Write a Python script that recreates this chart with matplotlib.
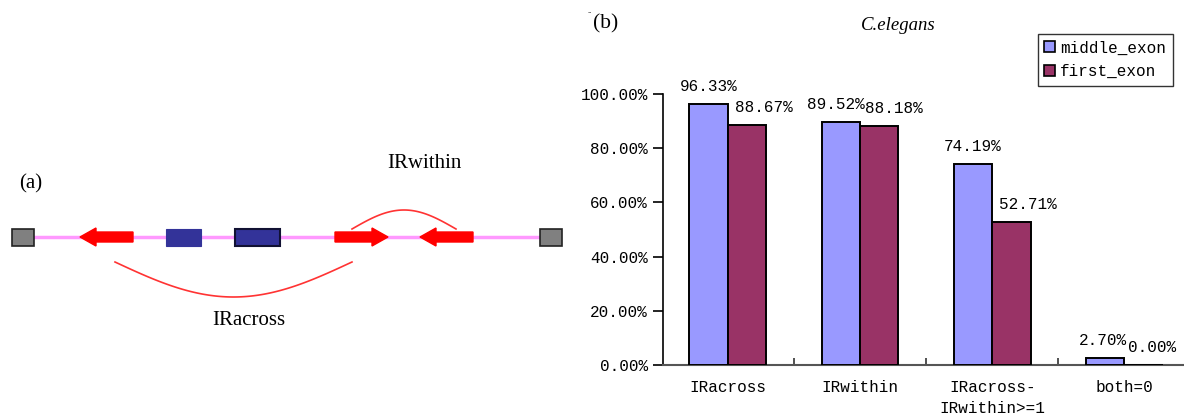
import matplotlib
matplotlib.use("Agg")
import matplotlib.pyplot as plt
from matplotlib.patches import Rectangle, FancyArrow
import numpy as np

categories = ["IRacross", "IRwithin", "IRacross-\nIRwithin>=1", "both=0"]
middle_exon = [96.33, 89.52, 74.19, 2.70]
first_exon = [88.67, 88.18, 52.71, 0.00]
series_names = ["middle_exon", "first_exon"]
yticks = [0, 20, 40, 60, 80, 100]

# horizontal nudges (pixels) of the value labels, as placed in the reference
mid_label_dx = [0, -5, 0, -2]
first_label_dx = [17, 15, 16, 8]

C_MID = "#9999FF"
C_FIRST = "#993366"
MONO = "Liberation Mono"
SERIF = "Liberation Serif"
FS = 11.5

W, H = 1184, 419
fig = plt.figure(figsize=(W / 100, H / 100), dpi=100)

# ---------------- Panel (a): schematic (pixel coordinates) ----------------
axa = fig.add_axes([0, 0, 1, 1])
axa.set_xlim(0, W)
axa.set_ylim(H, 0)
axa.axis("off")

axa.plot([33, 541], [237, 237], color="#FF99FF", lw=2.5, zorder=1)
for x0 in (12, 540):
    axa.add_patch(Rectangle((x0, 229), 22, 17, facecolor="#808080",
                            edgecolor="#222222", lw=1.2, zorder=3))
axa.add_patch(Rectangle((166, 229), 35, 17, facecolor="#333399",
                        edgecolor="#333399", lw=0.8, zorder=3))
axa.add_patch(Rectangle((235, 229), 45, 17, facecolor="#333399",
                        edgecolor="#111133", lw=1.5, zorder=3))

def red_arrow(x_tail, x_head):
    dx = x_head - x_tail
    axa.add_patch(FancyArrow(x_tail, 237, dx, 0, width=10, head_width=18,
                             head_length=16, length_includes_head=True,
                             facecolor="#FF0000", edgecolor="#FF0000",
                             zorder=4))

red_arrow(133, 80)
red_arrow(335, 388)
red_arrow(473, 420)

t = np.linspace(0, 1, 100)
xw = 352 + (456 - 352) * t
yw = 229 - 19 * np.sin(np.pi * t)
axa.plot(xw, yw, color="#FF3333", lw=1.2, zorder=2)
xa = 115 + (352 - 115) * t
ya = 262 + 35 * np.sin(np.pi * t)
axa.plot(xa, ya, color="#FF3333", lw=1.2, zorder=2)

axa.text(19, 184, "(a)", fontsize=15, family=SERIF, va="center", ha="left")
axa.text(424, 163, "IRwithin", fontsize=15, family=SERIF, va="center", ha="center")
axa.text(249, 320, "IRacross", fontsize=15, family=SERIF, va="center", ha="center")

axa.text(593, 24, "(b)", fontsize=15.5, family=SERIF, va="center", ha="left")
axa.text(898, 26, "C.elegans", fontsize=13.5, family=SERIF, style="italic",
         va="center", ha="center")
axa.text(587, 11, "..", fontsize=6, family=SERIF, va="center", ha="left")

# ---------------- Panel (b): bar chart ----------------
left_px, right_px = 663, 1184
bottom_px, top_px = 365, 94
axb = fig.add_axes([left_px / W, (H - bottom_px) / H,
                    (right_px - left_px) / W, (bottom_px - top_px) / H])
x = np.arange(len(categories))
bw = 0.29
b1 = axb.bar(x - bw / 2, middle_exon, bw, color=C_MID, edgecolor="black",
             lw=1.4, label=series_names[0], zorder=3)
b2 = axb.bar(x + bw / 2, first_exon, bw, color=C_FIRST, edgecolor="black",
             lw=1.4, label=series_names[1], zorder=3)

axb.set_xlim(-0.49, 3.45)
axb.set_ylim(0, 100)
for s in ("top", "right"):
    axb.spines[s].set_visible(False)
axb.spines["left"].set_color("black")
axb.spines["left"].set_linewidth(1.2)
axb.spines["bottom"].set_color("#555555")
axb.spines["bottom"].set_linewidth(1.5)

axb.set_yticks(yticks)
axb.set_yticklabels([f"{v:.2f}%" for v in yticks], family=MONO, fontsize=FS)
axb.tick_params(axis="y", direction="out", length=7, width=1.2, pad=4)

axb.set_xticks(x)
axb.set_xticklabels(categories, family=MONO, fontsize=FS, linespacing=1.45)
axb.tick_params(axis="x", which="major", length=0, pad=11)
axb.set_xticks([0.5, 1.5, 2.5], minor=True)
axb.tick_params(axis="x", which="minor", direction="in", length=5, width=1.2,
                color="#333333")

px2pt = 72 / 100
for rects, vals, dxs in ((b1, middle_exon, mid_label_dx),
                         (b2, first_exon, first_label_dx)):
    for r, v, dx in zip(rects, vals, dxs):
        axb.annotate(f"{v:.2f}%", (r.get_x() + r.get_width() / 2, v),
                     xytext=(dx * px2pt, 10 * px2pt), textcoords="offset points",
                     ha="center", va="bottom", family=MONO, fontsize=FS,
                     annotation_clip=False)

leg = axb.legend(loc="upper left", bbox_to_anchor=(1038 / W, 1 - 34 / H),
                 bbox_transform=fig.transFigure,
                 prop={"family": MONO, "size": FS}, frameon=True, fancybox=False,
                 edgecolor="black", handlelength=0.65, handleheight=0.65,
                 handletextpad=0.35, borderpad=0.4, labelspacing=0.55,
                 borderaxespad=0)
leg.get_frame().set_linewidth(1.0)
for hnd in leg.legend_handles:
    hnd.set_linewidth(1.2)

fig.savefig("out.png", dpi=100)
